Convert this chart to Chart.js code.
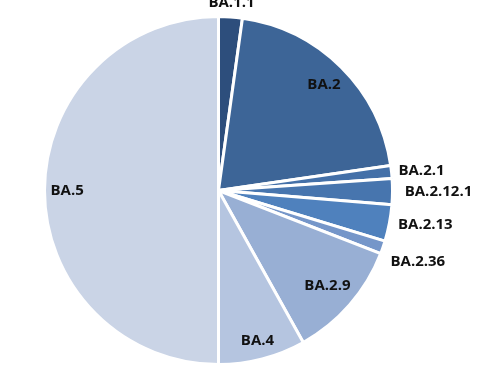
<!DOCTYPE html>
<html>
<head>
<meta charset="utf-8">
<script src="https://cdn.jsdelivr.net/npm/chart.js@4"></script>
<style>
html,body{margin:0;padding:0;background:#fff;}
#wrap{width:498px;height:382px;position:relative;}
</style>
</head>
<body>
<div id="wrap"><canvas id="c" width="498" height="382"></canvas></div>
<script>
const categories = ["BA.1.1","BA.2","BA.2.1","BA.2.12.1","BA.2.13","BA.2.36","BA.2.9","BA.4","BA.5"];
const shares = [2.2, 20.5, 1.2, 2.4, 3.4, 1.2, 11.0, 8.1, 50.0];
const sliceColors = ["#2d4e7c","#3d6597","#4470a8","#4775ae","#4f81bd","#7596c9","#98afd4","#b5c5e0","#cad4e6"];
// label placement: radius factor relative to outer radius, alignment
const labelLayout = [
  {r:1.08, align:"center"},
  {r:0.86, align:"center"},
  {r:1.04, align:"left"},
  {r:1.07, align:"left"},
  {r:1.05, align:"left"},
  {r:1.07, align:"left", dAng:0.06},
  {r:0.83, align:"center"},
  {r:0.89, align:"center"},
  {r:0.87, align:"center"}
];

const labelPlugin = {
  id: "sliceLabels",
  afterDatasetsDraw(chart) {
    const ctx = chart.ctx;
    const meta = chart.getDatasetMeta(0);
    ctx.save();
    ctx.font = "bold 15px 'Open Sans', 'Liberation Sans', sans-serif";
    ctx.fillStyle = "#111111";
    ctx.textBaseline = "middle";
    meta.data.forEach((arc, i) => {
      const p = arc.getProps(["x","y","startAngle","endAngle","outerRadius"], true);
      const lay = labelLayout[i];
      const mid = (p.startAngle + p.endAngle) / 2 + (lay.dAng || 0);
      const r = p.outerRadius * lay.r;
      const x = p.x + Math.cos(mid) * r;
      const y = p.y + Math.sin(mid) * r;
      ctx.textAlign = lay.align;
      ctx.fillText(categories[i], x, y);
    });
    ctx.restore();
  }
};

new Chart(document.getElementById("c"), {
  type: "pie",
  data: {
    labels: categories,
    datasets: [{
      data: shares,
      backgroundColor: sliceColors,
      borderColor: "#ffffff",
      borderWidth: 3
    }]
  },
  options: {
    responsive: false,
    animation: false,
    layout: { padding: { top: 15, bottom: 16, left: 43, right: 104 } },
    plugins: {
      legend: { display: false },
      tooltip: { enabled: false }
    }
  },
  plugins: [labelPlugin]
});
</script>
</body>
</html>
